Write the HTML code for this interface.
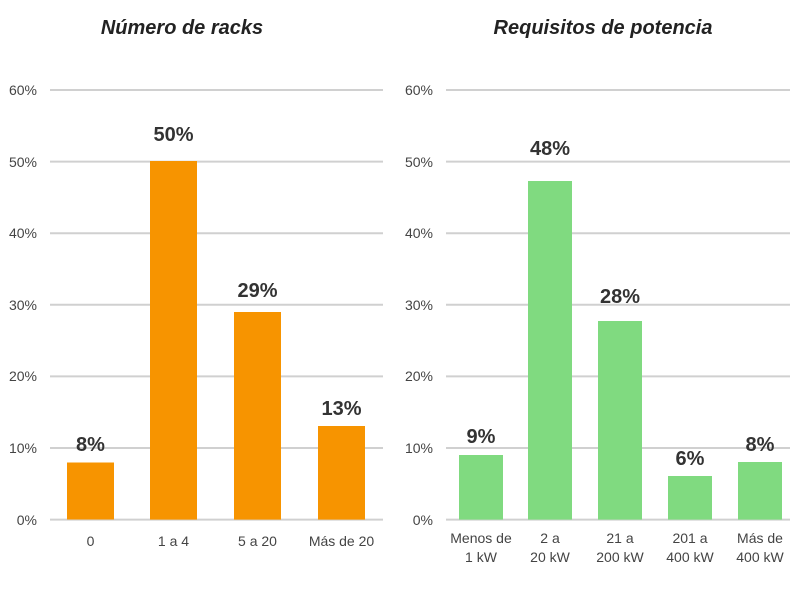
<!DOCTYPE html>
<html><head><meta charset="utf-8"><style>
body{margin:0;background:#fff;}
svg{display:block;font-family:"Liberation Sans",sans-serif;}
</style></head><body>
<svg width="800" height="600" viewBox="0 0 800 600">
<g font-weight="bold" font-style="italic" font-size="20" fill="#222" text-anchor="middle">
<text x="182" y="34">Número de racks</text>
<text x="603" y="34">Requisitos de potencia</text>
</g>
<g stroke="#d0d0d0" stroke-width="2">
<line x1="50" x2="383" y1="90" y2="90"/><line x1="50" x2="383" y1="161.6" y2="161.6"/><line x1="50" x2="383" y1="233.2" y2="233.2"/><line x1="50" x2="383" y1="304.8" y2="304.8"/><line x1="50" x2="383" y1="376.4" y2="376.4"/><line x1="50" x2="383" y1="448" y2="448"/><line x1="50" x2="383" y1="519.6" y2="519.6"/>
<line x1="446" x2="790" y1="90" y2="90"/><line x1="446" x2="790" y1="161.6" y2="161.6"/><line x1="446" x2="790" y1="233.2" y2="233.2"/><line x1="446" x2="790" y1="304.8" y2="304.8"/><line x1="446" x2="790" y1="376.4" y2="376.4"/><line x1="446" x2="790" y1="448" y2="448"/><line x1="446" x2="790" y1="519.6" y2="519.6"/>
</g>
<g font-size="14" fill="#444" text-anchor="end">
<text x="37" y="95">60%</text><text x="37" y="167">50%</text><text x="37" y="238">40%</text><text x="37" y="310">30%</text><text x="37" y="381">20%</text><text x="37" y="453">10%</text><text x="37" y="525">0%</text>
<text x="433" y="95">60%</text><text x="433" y="167">50%</text><text x="433" y="238">40%</text><text x="433" y="310">30%</text><text x="433" y="381">20%</text><text x="433" y="453">10%</text><text x="433" y="525">0%</text>
</g>
<g fill="#f79400">
<rect x="67" y="462.5" width="47" height="57"/>
<rect x="150" y="161" width="47" height="358.6"/>
<rect x="234" y="312" width="47" height="207.6"/>
<rect x="318" y="426" width="47" height="93.6"/>
</g>
<g fill="#80da80">
<rect x="459" y="455" width="44" height="64.6"/>
<rect x="528" y="181" width="44" height="338.6"/>
<rect x="598" y="321" width="44" height="198.6"/>
<rect x="668" y="476" width="44" height="43.6"/>
<rect x="738" y="462" width="44" height="57.6"/>
</g>
<g font-size="20" font-weight="bold" fill="#333" text-anchor="middle">
<text x="90.5" y="451">8%</text><text x="173.5" y="141">50%</text><text x="257.5" y="297">29%</text><text x="341.5" y="415">13%</text>
<text x="481" y="443">9%</text><text x="550" y="155">48%</text><text x="620" y="303">28%</text><text x="690" y="465">6%</text><text x="760" y="451">8%</text>
</g>
<g font-size="14" fill="#444" text-anchor="middle">
<text x="90.5" y="546">0</text><text x="173.5" y="546">1 a 4</text><text x="257.5" y="546">5 a 20</text><text x="341.5" y="546">Más de 20</text>
<text x="481" y="543">Menos de</text><text x="481" y="562">1 kW</text>
<text x="550" y="543">2 a</text><text x="550" y="562">20 kW</text>
<text x="620" y="543">21 a</text><text x="620" y="562">200 kW</text>
<text x="690" y="543">201 a</text><text x="690" y="562">400 kW</text>
<text x="760" y="543">Más de</text><text x="760" y="562">400 kW</text>
</g>
</svg>
</body></html>
